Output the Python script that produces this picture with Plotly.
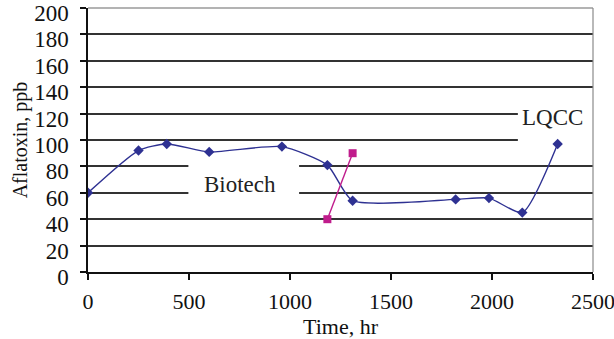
import plotly.graph_objects as go

# Data
biotech_time = [0, 250, 390, 600, 960, 1185, 1310, 1820, 1985, 2150, 2325]
biotech_aflatoxin = [60, 92, 97, 91, 95, 81, 54, 55, 56, 45, 97]

lqcc_time = [1185, 1310]
lqcc_aflatoxin = [40, 90]

x_ticks = [0, 500, 1000, 1500, 2000, 2500]
y_ticks = [0, 20, 40, 60, 80, 100, 120, 140, 160, 180, 200]

FONT = "Liberation Serif"
NAVY = "#2E3192"
MAGENTA = "#C01C8C"

fig = go.Figure()
fig.add_trace(go.Scatter(
    x=biotech_time, y=biotech_aflatoxin, mode="lines+markers",
    line=dict(color=NAVY, width=1.4, shape="spline", smoothing=0.6),
    marker=dict(symbol="diamond", size=8, color=NAVY),
    showlegend=False,
))
fig.add_trace(go.Scatter(
    x=lqcc_time, y=lqcc_aflatoxin, mode="lines+markers",
    line=dict(color=MAGENTA, width=1.4),
    marker=dict(symbol="square", size=8, color=MAGENTA),
    showlegend=False,
))

# white label boxes interrupting the gridlines (between grid and traces)
fig.add_shape(type="rect", xref="x", yref="y", x0=497, x1=1045, y0=52, y1=88,
              fillcolor="white", line=dict(width=0), layer="between")
fig.add_shape(type="rect", xref="x", yref="y", x0=2128, x1=2500, y0=92, y1=128,
              fillcolor="white", line=dict(width=0), layer="between")
# top border (gray) and right border
fig.add_shape(type="line", xref="paper", yref="paper", x0=0, x1=1, y0=1, y1=1,
              line=dict(color="#9a9a9a", width=1.5), layer="above")
fig.add_shape(type="line", xref="paper", yref="paper", x0=1, x1=1, y0=0, y1=1,
              line=dict(color="#8a8a8a", width=1.2), layer="above")

fig.add_annotation(x=752, y=66, xref="x", yref="y", text="Biotech", showarrow=False,
                   font=dict(family=FONT, size=23, color="#222"))
fig.add_annotation(x=2300, y=117, xref="x", yref="y", text="LQCC", showarrow=False,
                   font=dict(family=FONT, size=23, color="#222"))

fig.update_layout(
    width=614, height=339,
    margin=dict(l=88, r=21, t=8, b=67),
    paper_bgcolor="white", plot_bgcolor="white",
    font=dict(family=FONT, size=22, color="#111"),
)
fig.update_xaxes(
    range=[0, 2500], tickvals=x_ticks, ticktext=[str(v) for v in x_ticks],
    showgrid=False, zeroline=False, automargin=False,
    showline=True, linecolor="#111", linewidth=1.5,
    ticks="outside", ticklen=6, tickcolor="#111", tickwidth=1.5,
    ticklabelstandoff=3, ticklabeloverflow="allow",
    tickfont=dict(family=FONT, size=22, color="#111"),
    title=dict(text="Time, hr", font=dict(family=FONT, size=22), standoff=4),
)
fig.update_yaxes(
    range=[0, 200], tickvals=y_ticks, ticktext=[str(v) for v in y_ticks],
    showgrid=True, gridcolor="#333333", gridwidth=1.5, zeroline=False,
    automargin=False,
    showline=True, linecolor="#111", linewidth=1.5,
    ticks="outside", ticklen=6, tickcolor="#111", tickwidth=1.5,
    ticklabeloverflow="allow", ticklabelstandoff=7, ticklabelshift=5,
    tickfont=dict(family=FONT, size=23, color="#111"),
    title=dict(text="Aflatoxin, ppb", font=dict(family=FONT, size=20), standoff=1),
)

fig.write_html("out.html")
